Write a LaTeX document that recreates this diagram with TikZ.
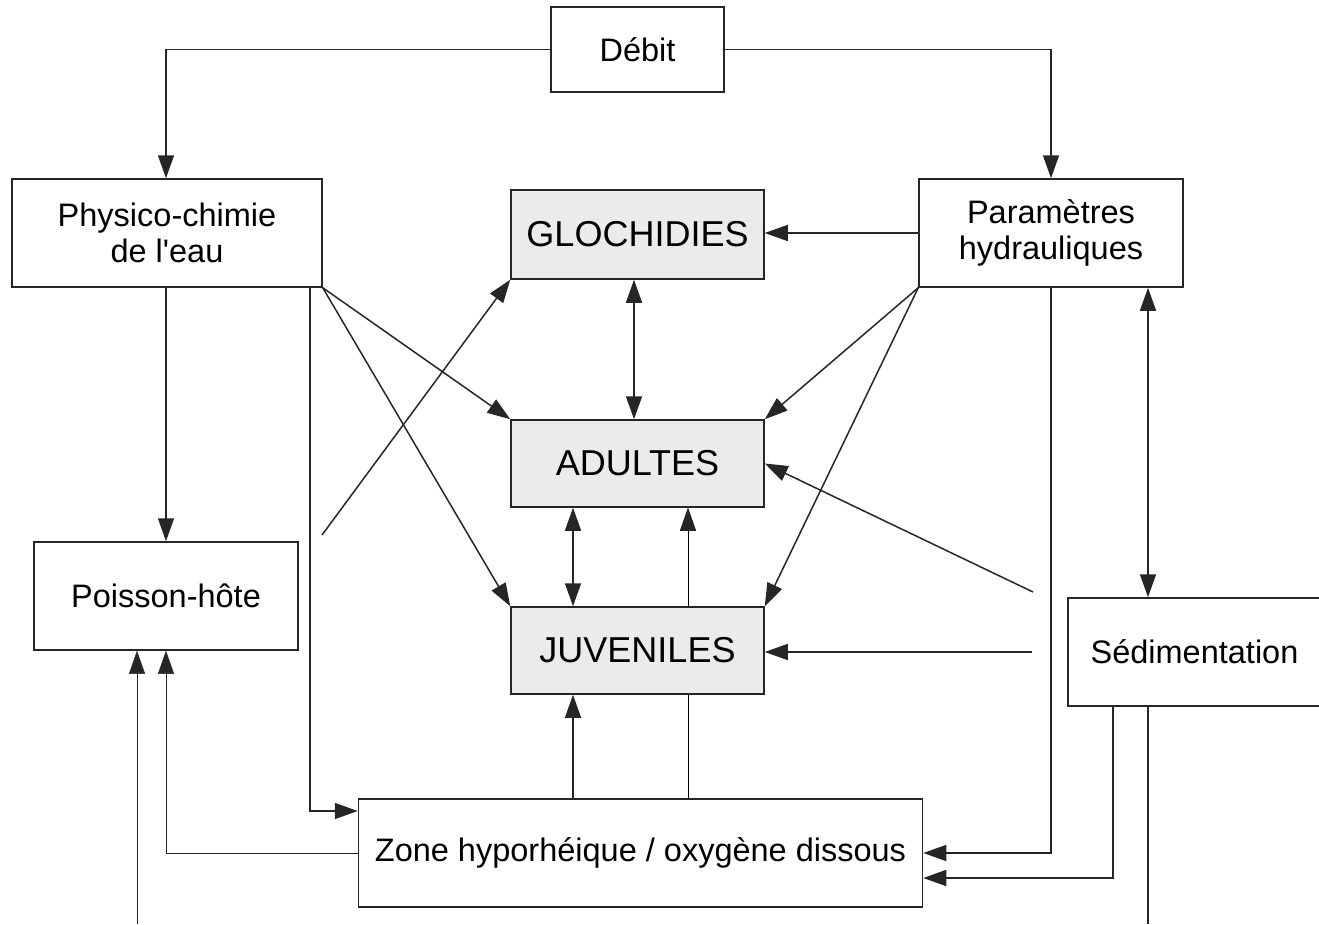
\documentclass[tikz,border=0pt]{standalone}
\usepackage{fontspec}
\setmainfont{Liberation Sans}
\usetikzlibrary{arrows.meta,backgrounds}

\begin{document}
\begin{tikzpicture}[
       x=1pt, y=-1pt,
       line width=1.5pt, draw=black!85,
       >={Triangle[length=23pt,width=16pt]},
       box/.style={draw=black!85, fill=white, align=center, inner sep=0pt,
                   font=\fontsize{32.5}{36}\selectfont},
       stage/.style={box, fill=black!8, minimum width=253pt,
                   font=\fontsize{36}{40}\selectfont}
   ]
   \useasboundingbox (0,0) rectangle (1319,924);

   \foreach \n/\x in {colA/137, colB/166, colC/310, colD/573, colE/634,
                      colF/688, colG/1051, colH/1113, colI/1148} {
       \coordinate (\n) at (\x, 0);
   }
   \coordinate (rowA) at (0, 811);
   \coordinate (rowB) at (0, 878);

   \node[box, minimum width=173pt, minimum height=85pt] (debit) at (637.5, 49.5) {Débit};
   \node[box, minimum width=310pt, minimum height=108pt] (physico) at (167, 233) {Physico-chimie\\de l\textquotesingle eau};
   \node[box, minimum width=264pt, minimum height=108pt] (param) at (1051, 233) {Paramètres\\hydrauliques};
   \node[box, minimum width=264pt, minimum height=108pt] (poisson) at (166, 596) {Poisson-hôte};
   \node[box, minimum width=253pt, minimum height=108pt] (sedim) at (1194.5, 652) {Sédimentation};
   \node[box, minimum width=564pt, minimum height=108pt] (zone) at (640.5, 853) {Zone hyporhéique / oxygène dissous};

   \node[stage, minimum height=89pt] (gloch) at (637.5, 234.5) {GLOCHIDIES};
   \node[stage, minimum height=87pt] (adultes) at (637.5, 463.5) {ADULTES};
   \node[stage, minimum height=87pt] (juv) at (637.5, 650.5) {JUVENILES};

   \coordinate (fish) at (322, 535);
   \coordinate (sedA) at (1033, 592);
   \coordinate (sedB) at (1032, 652);
   \coordinate (bottomL) at (137, 924);
   \coordinate (bottomR) at (1148, 924);

   \draw[->] (debit.west) -| (physico.north -| colB);
   \draw[->] (debit.east) -| (param.north -| colG);
   \draw[->] (param.west) -- (param.west -| gloch.east);
   \draw[<->] (gloch.south -| colE) -- (adultes.north -| colE);

   \draw[->] (physico.south -| colB) -- (poisson.north -| colB);
   \draw[->] (physico.south east) -- (adultes.north west);
   \draw[->] (physico.south east) -- (juv.north west);
   \draw[->] (physico.south -| colC) |- (zone.west |- rowA);
   \draw[->] (fish) -- (gloch.south west);

   \draw[->] (param.south west) -- (adultes.north east);
   \draw[->] (param.south west) -- (juv.north east);
   \draw[->] (param.south -| colG) |- (zone.east);
   \draw[<->] (param.south -| colI) -- (sedim.north -| colI);

   \draw[->] (sedA) -- (adultes.east);
   \draw[->] (sedB) -- (sedB -| juv.east);
   \draw[->] (sedim.south -| colH) |- (zone.east |- rowB);
   \draw (sedim.south -| colI) -- (bottomR);

   \draw[<->] (adultes.south -| colD) -- (juv.north -| colD);
   \draw[->] (zone.north -| colD) -- (juv.south -| colD);
   \begin{pgfonlayer}{background}
       \draw[->] (zone.north -| colF) -- (adultes.south -| colF);
   \end{pgfonlayer}

   \draw[->] (zone.west) -| (poisson.south -| colB);
   \draw[->] (bottomL) -- (poisson.south -| colA);
   \end{tikzpicture}
\end{document}
